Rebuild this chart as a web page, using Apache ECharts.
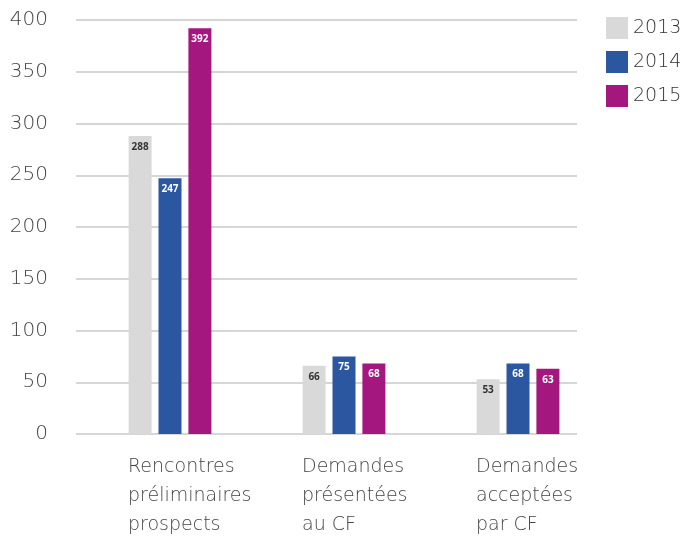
<!DOCTYPE html>
<html><head><meta charset="utf-8">
<script src="https://cdn.jsdelivr.net/npm/echarts@6/dist/echarts.min.js"></script>
<style>html,body{margin:0;padding:0;background:#fff}#c{width:683px;height:536px}</style>
</head><body><div id="c"></div>
<script>
const categories = ["Rencontres\npréliminaires\nprospects", "Demandes\nprésentées\nau CF", "Demandes\nacceptées\npar CF"];
const seriesNames = ["2013", "2014", "2015"];
const values2013 = [288, 66, 53];
const values2014 = [247, 75, 68];
const values2015 = [392, 68, 63];
const yTicks = [0, 50, 100, 150, 200, 250, 300, 350, 400];

const colors = ["#d9d9d9", "#2b56a0", "#a3177f"];
const labelColors = ["#333333", "#ffffff", "#ffffff"];
const font = "DejaVu Sans";
const chart = echarts.init(document.getElementById('c'));
const dataSets = [values2013, values2014, values2015];

chart.setOption({
  animation: false,
  color: colors,
  legend: {
    orient: 'vertical', left: 601, top: 12,
    itemWidth: 22, itemHeight: 22, itemGap: 12,
    icon: 'rect',
    textStyle: { fontFamily: font, fontWeight: 200, fontSize: 19, color: '#333' },
    data: seriesNames
  },
  grid: [
    { left: 83, right: 78, top: 20, bottom: 102, outerBoundsMode: 'none' },
    { left: 76, right: 106, top: 20, bottom: 102, outerBoundsMode: 'none' }
  ],
  xAxis: [
    { type: 'category', gridIndex: 0, data: categories,
      axisLine: { show: false }, axisTick: { show: false },
      axisLabel: { align: 'left', padding: [0, 0, 0, -42], margin: 19, lineHeight: 29,
        fontFamily: font, fontWeight: 200, fontSize: 19, color: '#444' } },
    { type: 'category', gridIndex: 1, data: ['a'], show: false }
  ],
  yAxis: [
    { type: 'value', gridIndex: 0, min: 0, max: 400, interval: 50, show: false },
    { type: 'value', gridIndex: 1, min: 0, max: 400, interval: 50,
      axisLine: { show: false }, axisTick: { show: false },
      splitLine: { lineStyle: { color: '#c8c8c8', width: 1.5 } },
      axisLabel: { margin: 28, fontFamily: font, fontWeight: 200, fontSize: 20, color: '#444',
        formatter: v => yTicks.includes(v) ? String(v) : '' } }
  ],
  series: seriesNames.map((n, i) => ({
    name: n, type: 'bar', xAxisIndex: 0, yAxisIndex: 0,
    data: dataSets[i], barWidth: 23, barGap: '30%',
    itemStyle: { color: colors[i] },
    label: { show: true, position: 'insideTop', distance: 6,
      fontFamily: 'Open Sans', fontWeight: 'bold', fontSize: 10, color: labelColors[i] }
  }))
});
</script></body></html>
